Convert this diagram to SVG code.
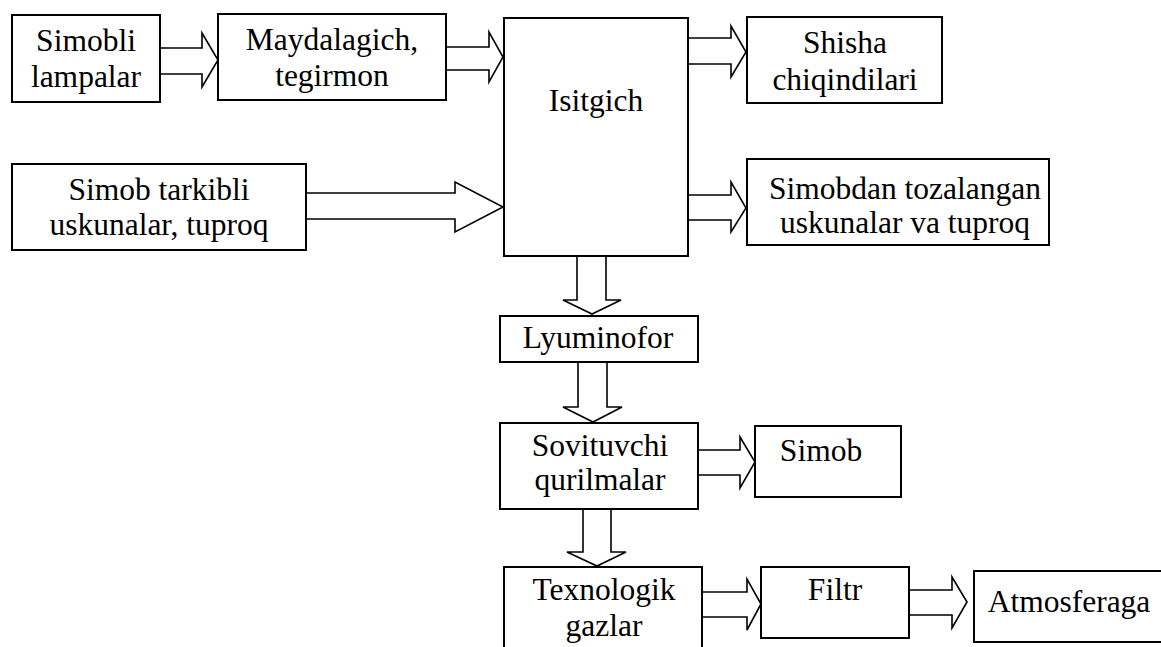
<svg xmlns="http://www.w3.org/2000/svg" width="1161" height="647" viewBox="0 0 1161 647">
<defs>
<style>
.box{fill:#fff;stroke:#000;stroke-width:2}
.arr{fill:#fff;stroke:#000;stroke-width:1.6;stroke-linejoin:miter}
</style>
</defs>
<rect width="1161" height="647" fill="#fff"/>
<g id="connectors">
<polygon class="arr" points="158,48 202,48 202,33 218,60 202,87 202,74 158,74"/>
<polygon class="arr" points="444,47 489,47 489,32 503,57 489,82 489,70 444,70"/>
<polygon class="arr" points="306,193 455,193 455,182 503,207 455,232 455,219 306,219"/>
<polygon class="arr" points="686,38 731,38 731,26 746,52 731,77 731,64 686,64"/>
<polygon class="arr" points="686,195 731,195 731,182 746,208 731,232 731,220 686,220"/>
<polygon class="arr" points="577,256 577,300 563,300 592,314 621,300 606,300 606,256"/>
<polygon class="arr" points="578,362 578,407 563,407 593,422 622,407 607,407 607,362"/>
<polygon class="arr" points="695,450 740,450 740,437 755,462 740,488 740,475 695,475"/>
<polygon class="arr" points="583,507 583,552 567,552 597,566 626,552 611,552 611,507"/>
<polygon class="arr" points="701,592 747,592 747,579 761,604 747,630 747,617 701,617"/>
<polygon class="arr" points="907,590 952,590 952,577 967,602 952,628 952,615 907,615"/>
</g>
<g id="n1"><rect class="box" x="12" y="15" width="148" height="87"/><text style="font-family:'Liberation Serif',serif;font-size:31.5px" text-anchor="middle" x="86" y="51">Simobli</text><text style="font-family:'Liberation Serif',serif;font-size:31.5px" text-anchor="middle" x="86" y="87">lampalar</text></g>
<g id="n2"><rect class="box" x="218" y="14" width="228" height="86"/><text style="font-family:'Liberation Serif',serif;font-size:31.5px" text-anchor="middle" x="332" y="50">Maydalagich,</text><text style="font-family:'Liberation Serif',serif;font-size:31.5px" text-anchor="middle" x="332" y="86">tegirmon</text></g>
<g id="n3"><rect class="box" x="504" y="18" width="184" height="238"/><text style="font-family:'Liberation Serif',serif;font-size:31.5px" text-anchor="middle" x="596" y="111">Isitgich</text></g>
<g id="n4"><rect class="box" x="747" y="17" width="195" height="86"/><text style="font-family:'Liberation Serif',serif;font-size:31.5px" text-anchor="middle" x="845" y="53">Shisha</text><text style="font-family:'Liberation Serif',serif;font-size:31.5px" text-anchor="middle" x="845" y="90">chiqindilari</text></g>
<g id="n5"><rect class="box" x="747" y="159" width="302" height="86"/><text style="font-family:'Liberation Serif',serif;font-size:31.5px" text-anchor="middle" x="905" y="199">Simobdan tozalangan</text><text style="font-family:'Liberation Serif',serif;font-size:31.5px" text-anchor="middle" x="905" y="233">uskunalar va tuproq</text></g>
<g id="n6"><rect class="box" x="12" y="164" width="294" height="86"/><text style="font-family:'Liberation Serif',serif;font-size:31.5px" text-anchor="middle" x="159" y="200">Simob tarkibli</text><text style="font-family:'Liberation Serif',serif;font-size:31.5px" text-anchor="middle" x="159" y="235">uskunalar, tuproq</text></g>
<g id="n7"><rect class="box" x="500" y="316" width="198" height="46"/><text style="font-family:'Liberation Serif',serif;font-size:31.5px" text-anchor="middle" x="598" y="348">Lyuminofor</text></g>
<g id="n8"><rect class="box" x="500" y="423" width="198" height="86"/><text style="font-family:'Liberation Serif',serif;font-size:31.5px" text-anchor="middle" x="600" y="456">Sovituvchi</text><text style="font-family:'Liberation Serif',serif;font-size:31.5px" text-anchor="middle" x="600" y="490">qurilmalar</text></g>
<g id="n9"><rect class="box" x="755" y="426" width="146" height="71"/><text style="font-family:'Liberation Serif',serif;font-size:31.5px" text-anchor="middle" x="821" y="461">Simob</text></g>
<g id="n10"><rect class="box" x="504" y="567" width="198" height="100"/><text style="font-family:'Liberation Serif',serif;font-size:31.5px" text-anchor="middle" x="604" y="600">Texnologik</text><text style="font-family:'Liberation Serif',serif;font-size:31.5px" text-anchor="middle" x="604" y="636">gazlar</text></g>
<g id="n11"><rect class="box" x="761" y="567" width="148" height="71"/><text style="font-family:'Liberation Serif',serif;font-size:31.5px" text-anchor="middle" x="835" y="600">Filtr</text></g>
<g id="n12"><rect class="box" x="974" y="571" width="200" height="71"/><text style="font-family:'Liberation Serif',serif;font-size:31.5px" text-anchor="middle" x="1069" y="612">Atmosferaga</text></g>
</svg>
